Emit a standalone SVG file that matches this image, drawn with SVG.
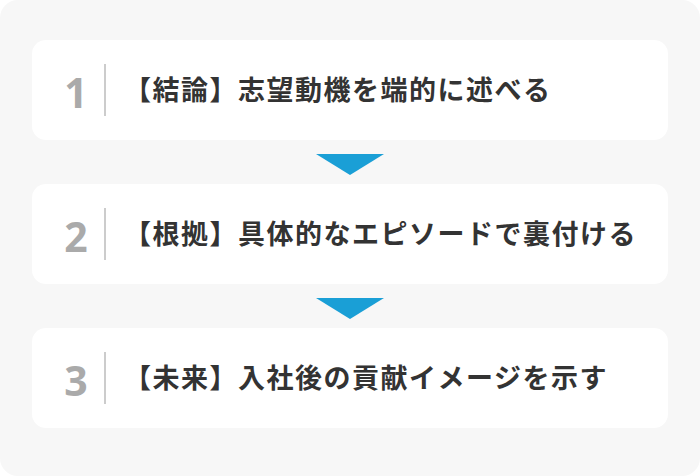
<svg xmlns="http://www.w3.org/2000/svg" width="700" height="476" viewBox="0 0 700 476">
<style>
.box{fill:#ffffff}
.num{font-family:"Noto Sans","Liberation Sans",sans-serif;font-weight:700;font-size:41px;fill:#aaaaaa;text-anchor:middle}
.sep{stroke:#cccccc;stroke-width:2}
.lbl{font-family:"Noto Sans CJK JP","Noto Sans",sans-serif;font-weight:700;font-size:27px;letter-spacing:1.5px;fill:#333333}
.arr{fill:#1a9fd6}
</style>
<rect x="0" y="0" width="700" height="476" rx="18" fill="#f7f7f7"/>
<g id="step1">
<rect class="box" x="32" y="40" width="636" height="100" rx="14"/>
<text class="num" x="76" y="108">1</text>
<line class="sep" x1="105" y1="64" x2="105" y2="116"/>
<text class="lbl" x="124" y="100">【結論】志望動機を端的に述べる</text>
</g>
<g id="step2">
<rect class="box" x="32" y="184" width="636" height="100" rx="14"/>
<text class="num" x="76" y="252">2</text>
<line class="sep" x1="105" y1="208" x2="105" y2="260"/>
<text class="lbl" x="124" y="244">【根拠】具体的なエピソードで裏付ける</text>
</g>
<g id="step3">
<rect class="box" x="32" y="328" width="636" height="100" rx="14"/>
<text class="num" x="76" y="396">3</text>
<line class="sep" x1="105" y1="352" x2="105" y2="404"/>
<text class="lbl" x="124" y="388">【未来】入社後の貢献イメージを示す</text>
</g>
<g id="connectors">
<polygon class="arr" points="316,154 384,154 350,175"/>
<polygon class="arr" points="316,298 384,298 350,319"/>
</g>
</svg>
